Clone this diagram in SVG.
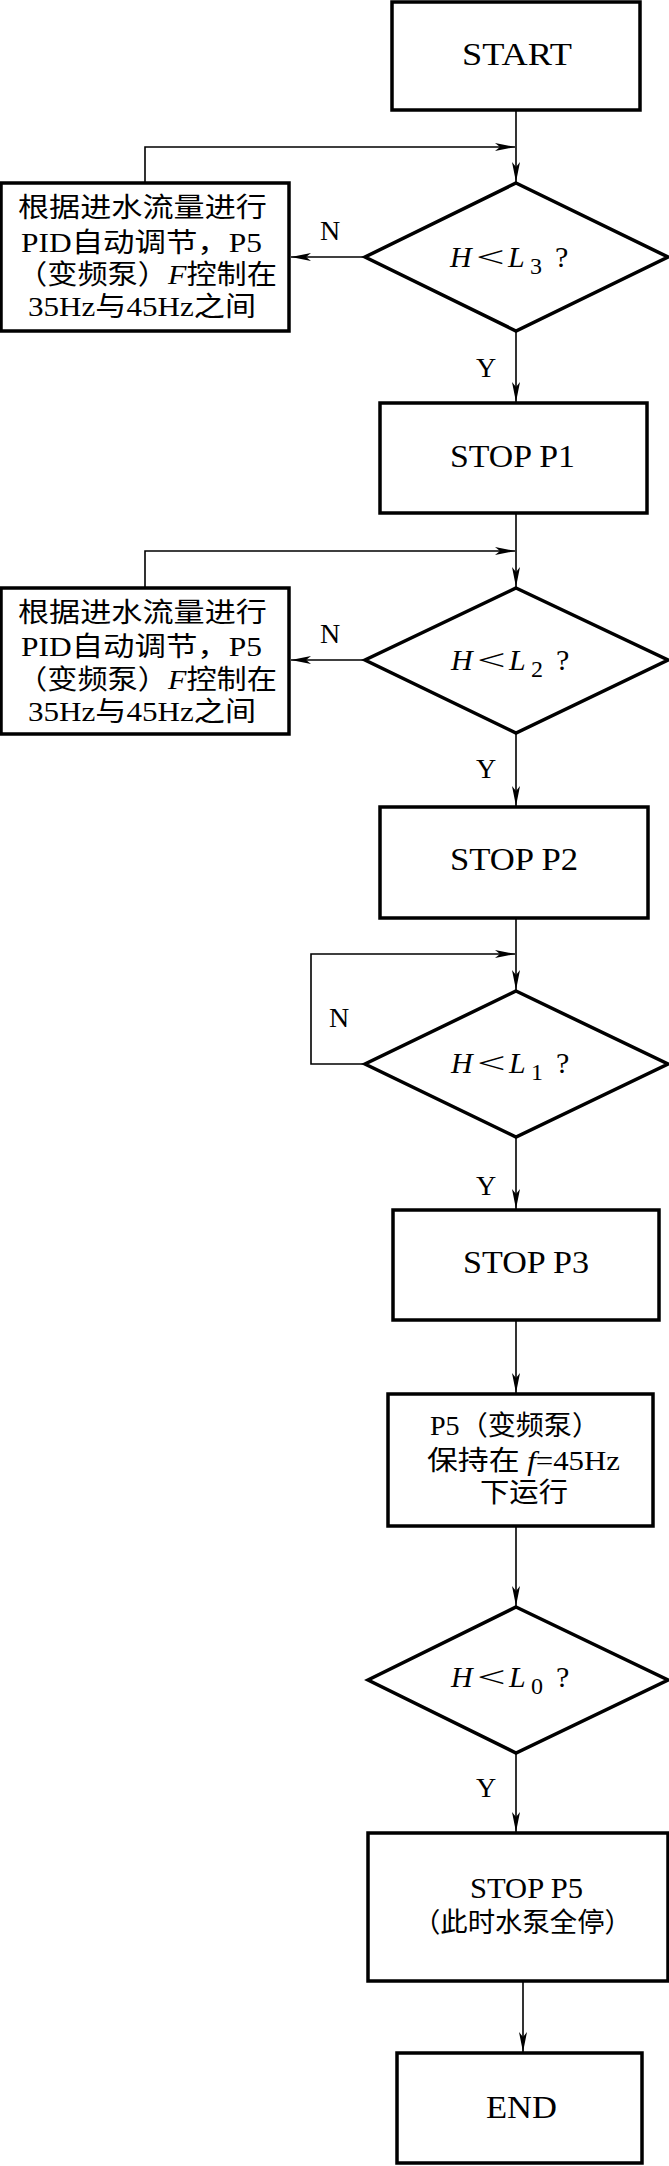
<svg xmlns="http://www.w3.org/2000/svg" width="669" height="2166" viewBox="0 0 669 2166">
<defs>
<style>
.box{fill:#fff;stroke:#000;stroke-width:3.5}
.dia{fill:#fff;stroke:#000;stroke-width:3.5;stroke-linejoin:miter}
.c{fill:none;stroke:#000;stroke-width:1.6}
.t{font-family:"Liberation Serif","Noto Sans CJK SC",serif;fill:#000}
.lb{font-size:31px}
.bx{font-size:27px}
.lab{font-size:28px;text-anchor:middle}
.dt{font-size:30px}
.it{font-style:italic}
</style>
<marker id="ah" markerUnits="userSpaceOnUse" markerWidth="24" markerHeight="12" viewBox="-22 -6 24 12" refX="0" refY="0" orient="auto">
<path d="M0,0 L-20,-4 L-15,0 L-20,4 Z" fill="#000"/>
</marker>
</defs>
<rect width="669" height="2166" fill="#fff"/>

<g id="connectors">
<path class="c" d="M516,111 V182" marker-end="url(#ah)"/>
<path class="c" d="M145,183 V147 H515" marker-end="url(#ah)"/>
<path class="c" d="M365,257 H291" marker-end="url(#ah)"/>
<path class="c" d="M516,331 V402" marker-end="url(#ah)"/>
<path class="c" d="M516,514 V587" marker-end="url(#ah)"/>
<path class="c" d="M145,588 V551 H515" marker-end="url(#ah)"/>
<path class="c" d="M365,660 H291" marker-end="url(#ah)"/>
<path class="c" d="M516,733 V806" marker-end="url(#ah)"/>
<path class="c" d="M516,918 V990" marker-end="url(#ah)"/>
<path class="c" d="M365,1064 H311 V954 H515" marker-end="url(#ah)"/>
<path class="c" d="M516,1137 V1209" marker-end="url(#ah)"/>
<path class="c" d="M516,1320 V1393" marker-end="url(#ah)"/>
<path class="c" d="M516,1526 V1606" marker-end="url(#ah)"/>
<path class="c" d="M516,1753 V1832" marker-end="url(#ah)"/>
<path class="c" d="M523,1981 V2052" marker-end="url(#ah)"/>
<text class="t lab" x="330" y="240">N</text>
<text class="t lab" x="486" y="377">Y</text>
<text class="t lab" x="330" y="643">N</text>
<text class="t lab" x="486" y="778">Y</text>
<text class="t lab" x="339" y="1027">N</text>
<text class="t lab" x="486" y="1195">Y</text>
<text class="t lab" x="486" y="1797">Y</text>
</g>

<g id="start">
<rect class="box" x="392" y="2" width="248" height="108"/>
<text class="t lb" x="462" y="65" textLength="110" lengthAdjust="spacingAndGlyphs">START</text>
</g>

<g id="dec1">
<polygon class="dia" points="516,183 668,257 516,331 365,257"/>
<text class="t dt" y="267"><tspan class="it" x="450">H</tspan><tspan class="it" x="508">L</tspan><tspan x="530" y="274" font-size="24">3</tspan><tspan x="555" y="267">?</tspan></text>
<text class="t dt" transform="translate(476,267) scale(1.7,1)">&lt;</text>
</g>

<g id="pid1">
<rect class="box" x="1" y="183" width="288" height="148"/>
<text class="t bx" x="18" y="217" textLength="249" lengthAdjust="spacingAndGlyphs">根据进水流量进行</text>
<text class="t bx" x="21" y="252" textLength="241" lengthAdjust="spacingAndGlyphs">PID自动调节，P5</text>
<text class="t bx" x="17" y="284" textLength="260" lengthAdjust="spacingAndGlyphs">（变频泵）<tspan class="it">F</tspan>控制在</text>
<text class="t bx" x="28" y="316" textLength="228" lengthAdjust="spacingAndGlyphs">35Hz与45Hz之间</text>
</g>

<g id="stop1">
<rect class="box" x="380" y="403" width="267" height="110"/>
<text class="t lb" x="450" y="467" textLength="125" lengthAdjust="spacingAndGlyphs">STOP P1</text>
</g>

<g id="dec2">
<polygon class="dia" points="516,588 668,660 516,733 365,660"/>
<text class="t dt" y="670"><tspan class="it" x="451">H</tspan><tspan class="it" x="509">L</tspan><tspan x="531" y="677" font-size="24">2</tspan><tspan x="556" y="670">?</tspan></text>
<text class="t dt" transform="translate(477,670) scale(1.7,1)">&lt;</text>
</g>

<g id="pid2">
<rect class="box" x="1" y="588" width="288" height="146"/>
<text class="t bx" x="18" y="622" textLength="249" lengthAdjust="spacingAndGlyphs">根据进水流量进行</text>
<text class="t bx" x="21" y="656" textLength="241" lengthAdjust="spacingAndGlyphs">PID自动调节，P5</text>
<text class="t bx" x="17" y="689" textLength="260" lengthAdjust="spacingAndGlyphs">（变频泵）<tspan class="it">F</tspan>控制在</text>
<text class="t bx" x="28" y="721" textLength="228" lengthAdjust="spacingAndGlyphs">35Hz与45Hz之间</text>
</g>

<g id="stop2">
<rect class="box" x="380" y="807" width="268" height="111"/>
<text class="t lb" x="450" y="870" textLength="128" lengthAdjust="spacingAndGlyphs">STOP P2</text>
</g>

<g id="dec3">
<polygon class="dia" points="516,991 668,1064 516,1137 365,1064"/>
<text class="t dt" y="1073"><tspan class="it" x="451">H</tspan><tspan class="it" x="509">L</tspan><tspan x="531" y="1080" font-size="24">1</tspan><tspan x="556" y="1073">?</tspan></text>
<text class="t dt" transform="translate(477,1073) scale(1.7,1)">&lt;</text>
</g>

<g id="stop3">
<rect class="box" x="393" y="1210" width="266" height="110"/>
<text class="t lb" x="463" y="1273" textLength="126" lengthAdjust="spacingAndGlyphs">STOP P3</text>
</g>

<g id="run45">
<rect class="box" x="388" y="1394" width="265" height="132"/>
<text class="t bx" x="430" y="1435" textLength="170" lengthAdjust="spacingAndGlyphs">P5（变频泵）</text>
<text class="t bx" x="427" y="1470" textLength="193" lengthAdjust="spacingAndGlyphs">保持在 <tspan class="it">f</tspan>=45Hz</text>
<text class="t bx" x="480" y="1502" textLength="88" lengthAdjust="spacingAndGlyphs">下运行</text>
</g>

<g id="dec4">
<polygon class="dia" points="516,1607 668,1680 516,1753 368,1680"/>
<text class="t dt" y="1687"><tspan class="it" x="451">H</tspan><tspan class="it" x="509">L</tspan><tspan x="531" y="1694" font-size="24">0</tspan><tspan x="556" y="1687">?</tspan></text>
<text class="t dt" transform="translate(477,1687) scale(1.7,1)">&lt;</text>
</g>

<g id="stop5">
<rect class="box" x="368" y="1833" width="300" height="148"/>
<text class="t" x="470" y="1898" font-size="30" textLength="113" lengthAdjust="spacingAndGlyphs">STOP P5</text>
<text class="t bx" x="413" y="1932" textLength="219" lengthAdjust="spacingAndGlyphs">（此时水泵全停）</text>
</g>

<g id="end">
<rect class="box" x="397" y="2053" width="245" height="110"/>
<text class="t lb" x="486" y="2118" textLength="71" lengthAdjust="spacingAndGlyphs">END</text>
</g>
</svg>
